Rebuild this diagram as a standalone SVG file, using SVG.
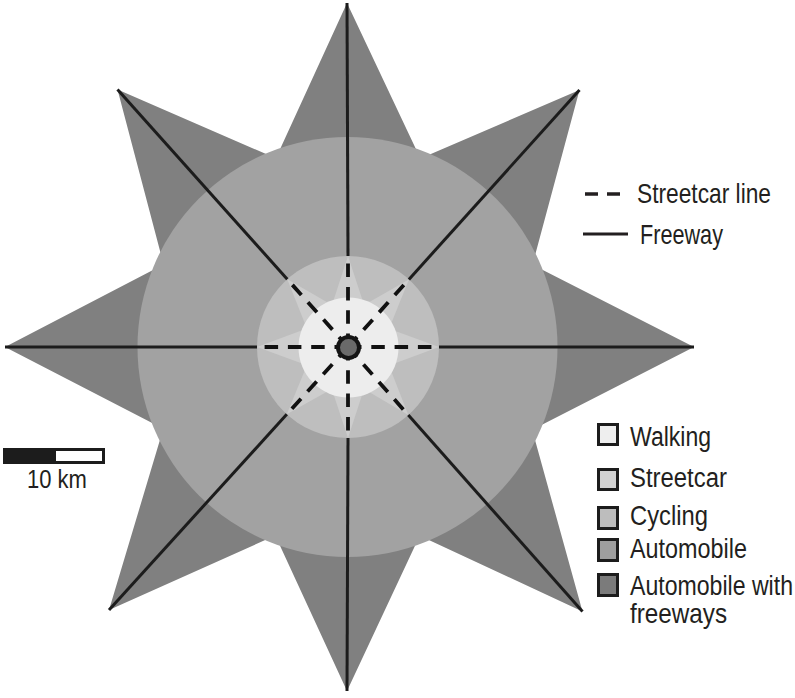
<svg xmlns="http://www.w3.org/2000/svg" width="795" height="698" viewBox="0 0 795 698">
<style>
.lbl{font-family:"Liberation Sans",Arial,sans-serif;font-size:28px;fill:#231f20}
.fw{stroke:#1c1c1c;stroke-width:3;fill:none;stroke-linecap:butt}
.sc{stroke:#111;stroke-width:3.8;fill:none;stroke-dasharray:13.5 9.8}
.box{stroke:#1c1c1c;stroke-width:3}
</style>
<rect width="795" height="698" fill="#ffffff"/>
<g id="zone-automobile-freeways">
<polygon points="347,3 420.4,158.4 579.5,90 532.5,264.8 694,347 532.2,429.8 582.5,611.5 419.7,535.8 347,691 275.3,535.5 109,610 163.3,428.8 5,347 163.6,264.5 117.5,89.5 275.9,158.3" fill="#808080"/>
</g>
<g id="zone-automobile">
<circle cx="347.5" cy="347" r="210" fill="#a2a2a2"/>
</g>
<g id="zone-cycling">
<circle cx="348" cy="347" r="91" fill="#bebebe"/>
</g>
<g id="zone-streetcar">
<polygon points="348,256 364.1,305 408.9,279.4 389.1,328.7 439,347 389,365.4 408.3,415.1 364,389.1 348,438 331.8,389 286.8,414.3 306.9,365.2 257,347 306.9,328.6 287.3,279.2 332,305" fill="#cdcdcd"/>
</g>
<g id="zone-walking">
<circle cx="348.5" cy="347.5" r="50" fill="#ededed"/>
</g>
<g id="connectors">
<line class="fw" x1="347" y1="3" x2="348" y2="256"/>
<line class="fw" x1="579.5" y1="90" x2="408.9" y2="279.4"/>
<line class="fw" x1="694" y1="347" x2="439" y2="347"/>
<line class="fw" x1="582.5" y1="611.5" x2="408.3" y2="415.1"/>
<line class="fw" x1="347" y1="691" x2="348" y2="438"/>
<line class="fw" x1="109" y1="610" x2="286.8" y2="414.3"/>
<line class="fw" x1="5" y1="347" x2="257" y2="347"/>
<line class="fw" x1="117.5" y1="89.5" x2="287.3" y2="279.2"/>
<line class="sc" x1="348" y1="347" x2="348" y2="256"/>
<line class="sc" x1="348" y1="347" x2="408.9" y2="279.4"/>
<line class="sc" x1="348" y1="347" x2="439" y2="347"/>
<line class="sc" x1="348" y1="347" x2="408.3" y2="415.1"/>
<line class="sc" x1="348" y1="347" x2="348" y2="438"/>
<line class="sc" x1="348" y1="347" x2="286.8" y2="414.3"/>
<line class="sc" x1="348" y1="347" x2="257" y2="347"/>
<line class="sc" x1="348" y1="347" x2="287.3" y2="279.2"/>
</g>
<g id="center">
<circle cx="348.5" cy="347.5" r="10.5" fill="#6a6a6a" stroke="#141414" stroke-width="4"/>
</g>
<g id="legend-lines">
<line x1="585" y1="194" x2="622" y2="194" stroke="#231f20" stroke-width="3.5" stroke-dasharray="13 9"/>
<text class="lbl" transform="translate(637,203) scale(0.8126,1)">Streetcar line</text>
<line x1="583" y1="234" x2="628" y2="234" stroke="#231f20" stroke-width="3"/>
<text class="lbl" transform="translate(640,244) scale(0.773,1)">Freeway</text>
</g>
<g id="legend-walking">
<rect class="box" x="598.5" y="424.5" width="19" height="20" fill="#eeeeee"/>
<text class="lbl" transform="translate(630,446) scale(0.823,1)">Walking</text>
</g>
<g id="legend-streetcar">
<rect class="box" x="598.5" y="469.5" width="19" height="20" fill="#d2d2d2"/>
<text class="lbl" transform="translate(630,487) scale(0.854,1)">Streetcar</text>
</g>
<g id="legend-cycling">
<rect class="box" x="598.5" y="507.5" width="19" height="21" fill="#bdbdbd"/>
<text class="lbl" transform="translate(630,525) scale(0.85,1)">Cycling</text>
</g>
<g id="legend-automobile">
<rect class="box" x="598.5" y="539.5" width="19" height="21" fill="#9e9e9e"/>
<text class="lbl" transform="translate(630,558) scale(0.835,1)">Automobile</text>
</g>
<g id="legend-automobile-freeways">
<rect class="box" x="598.5" y="574.5" width="19" height="21" fill="#7b7b7b"/>
<text class="lbl" transform="translate(630,595) scale(0.825,1)">Automobile with</text>
<text class="lbl" transform="translate(630,623) scale(0.866,1)">freeways</text>
</g>
<g id="scale-bar">
<rect x="4.5" y="449.5" width="99" height="13" fill="#ffffff" stroke="#1c1c1c" stroke-width="3"/>
<rect x="3" y="448" width="53" height="16" fill="#1c1c1c"/>
<text class="lbl" transform="translate(27,488) scale(0.88,1)" style="font-size:25px">10 km</text>
</g>
</svg>
